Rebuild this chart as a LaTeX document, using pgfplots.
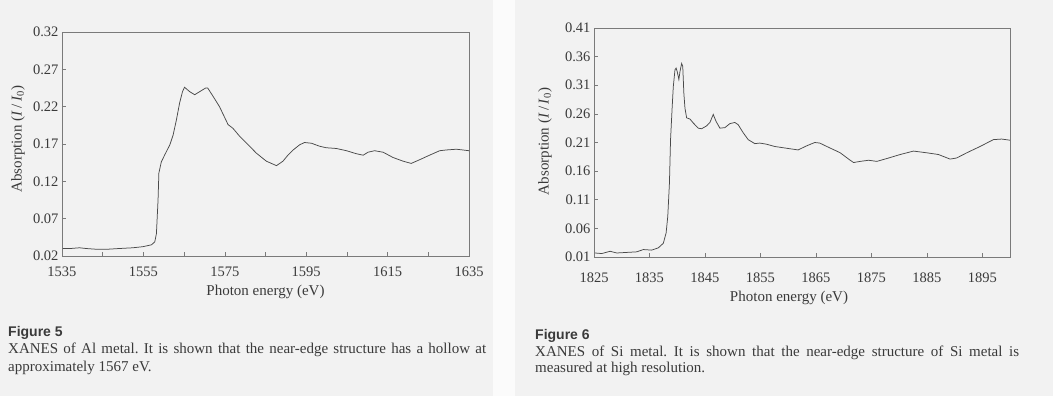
\documentclass[border=0pt]{standalone}
\usepackage{fontspec}
\setmainfont{Liberation Serif}
\newfontfamily\capsans{Liberation Sans}
\usepackage{pgfplots}
\pgfplotsset{compat=1.18}
\frenchspacing
\definecolor{bgpanel}{HTML}{F2F2F2}
\definecolor{bggap}{HTML}{FBFBFB}
\definecolor{curve}{HTML}{4A4A4A}
\definecolor{frame}{HTML}{7A7A7A}
\definecolor{txt}{HTML}{3A3A3A}
\pgfplotsset{xanes/.style={
  scale only axis,
  anchor=south west,
  axis line style={frame, line width=0.8pt},
  tick style={frame, line width=0.6pt},
  tick align=inside, xtick pos=bottom, ytick pos=left,
  major tick length=4pt, minor tick length=4pt,
  tick label style={font=\fontsize{14.5}{16}\selectfont, text=txt},
  /pgf/number format/assume math mode=true,
  xticklabel style={/pgf/number format/set thousands separator={}},
  yticklabel style={/pgf/number format/.cd, fixed, fixed zerofill, precision=2},
}}
\begin{document}
\begin{tikzpicture}[x=1pt,y=1pt]
\fill[bggap] (0,0) rectangle (1053,396);
\fill[bgpanel] (0,0) rectangle (493,396);
\fill[bgpanel] (515,0) rectangle (1053,396);

% ---------- Figure 5 ----------
\begin{axis}[xanes,
  at={(62pt,140pt)}, width=407pt, height=224pt,
  xmin=1535, xmax=1635, ymin=0.02, ymax=0.32,
  xtick={1535,1555,1575,1595,1615,1635},
  minor xtick={1545,1565,1585,1605,1625},
  ytick={0.02,0.07,0.12,0.17,0.22,0.27,0.32},
  xticklabel style={yshift=-7pt},
]
\addplot[curve, line width=0.75pt] coordinates {
(1535.2,0.030) (1537.0,0.030) (1539.3,0.031) (1541.0,0.030) (1543.5,0.029)
(1546.0,0.029) (1549.0,0.030) (1552.4,0.031) (1554.9,0.0325) (1557.0,0.035)
(1557.8,0.039) (1558.2,0.050) (1558.6,0.095) (1558.8,0.131) (1559.4,0.146)
(1560.2,0.155) (1561.5,0.169) (1562.3,0.182) (1563.1,0.202) (1563.9,0.225)
(1564.6,0.240) (1565.1,0.246) (1566.4,0.240) (1567.6,0.236) (1568.8,0.240)
(1570.3,0.245) (1570.8,0.245) (1572.1,0.234) (1573.7,0.220) (1575.8,0.196)
(1577.0,0.191) (1578.7,0.180) (1581.1,0.167) (1582.7,0.158) (1585.2,0.147)
(1587.7,0.141) (1589.3,0.147) (1590.5,0.155) (1591.8,0.162) (1593.4,0.169)
(1594.6,0.172) (1596.3,0.171) (1598.3,0.167) (1599.9,0.165) (1602.4,0.164)
(1604.9,0.161) (1607.3,0.157) (1609.0,0.155) (1610.2,0.159) (1611.8,0.161)
(1613.9,0.159) (1616.3,0.152) (1618.8,0.147) (1620.8,0.144) (1622.9,0.149)
(1625.3,0.155) (1627.8,0.161) (1629.4,0.162) (1631.9,0.163) (1633.5,0.162)
(1635.0,0.161)
};
\end{axis}

% ---------- Figure 6 ----------
\begin{axis}[xanes,
  at={(594pt,139pt)}, width=416pt, height=229pt,
  xmin=1825, xmax=1900, ymin=0.01, ymax=0.41,
  xtick={1825,1835,1845,1855,1865,1875,1885,1895},
  ytick={0.01,0.06,0.11,0.16,0.21,0.26,0.31,0.36,0.41},
  xticklabel style={yshift=-12pt},
]
\addplot[curve, line width=0.75pt] coordinates {
(1825.2,0.017) (1826.4,0.016) (1827.9,0.020) (1829.1,0.017) (1830.9,0.018)
(1832.7,0.019) (1833.9,0.023) (1835.4,0.022) (1836.6,0.026) (1837.5,0.034)
(1838.0,0.052) (1838.3,0.081) (1838.6,0.139) (1838.8,0.215) (1839.1,0.273)
(1839.3,0.308) (1839.6,0.337) (1839.8,0.340) (1840.0,0.334) (1840.3,0.320)
(1840.5,0.334) (1840.8,0.348) (1841.0,0.343) (1841.2,0.296) (1841.4,0.270)
(1841.7,0.253) (1842.3,0.251) (1842.9,0.244) (1843.8,0.235) (1844.4,0.234)
(1845.3,0.239) (1845.9,0.245) (1846.5,0.259) (1847.0,0.247) (1847.7,0.235)
(1848.6,0.236) (1849.5,0.243) (1850.4,0.245) (1851.0,0.241) (1851.9,0.227)
(1852.8,0.215) (1854.0,0.208) (1854.9,0.209) (1856.1,0.207) (1857.6,0.203)
(1859.7,0.200) (1861.8,0.197) (1863.3,0.204) (1864.8,0.210) (1865.7,0.209)
(1867.2,0.202) (1869.4,0.192) (1870.9,0.181) (1871.8,0.175) (1873.0,0.177)
(1874.5,0.179) (1876.0,0.177) (1877.8,0.182) (1880.2,0.189) (1882.6,0.195)
(1885.0,0.192) (1887.1,0.189) (1889.2,0.181) (1890.4,0.183) (1892.2,0.192)
(1894.6,0.203) (1897.0,0.215) (1898.5,0.216) (1900.0,0.214)
};
\end{axis}

% axis labels
\begin{scope}[every node/.style={text=txt, font=\fontsize{15}{17}\selectfont, inner sep=0pt}]
\node[anchor=base] at (265.5,100) {Photon energy (eV)};
\node[anchor=base] at (789,94) {Photon energy (eV)};
\node[rotate=90] at (18,257) {Absorption (\textit{I}\,/\,\textit{I}\textsubscript{0})};
\node[rotate=90] at (545,254.5) {Absorption (\textit{I}\,/\,\textit{I}\textsubscript{0})};
\end{scope}

% captions
\begin{scope}[every node/.style={text=txt, inner sep=0pt, anchor=base west}]
\node[font=\capsans\bfseries\fontsize{14}{16}\selectfont] at (8,59) {Figure 5};
\node[font=\fontsize{15}{18}\selectfont] at (8,42) {\makebox[478pt][s]{XANES of Al metal. It is shown that the near-edge structure has a hollow at}};
\node[font=\fontsize{15}{18}\selectfont] at (8,24) {approximately 1567 eV.};
\node[font=\capsans\bfseries\fontsize{14}{16}\selectfont] at (535,56) {Figure 6};
\node[font=\fontsize{15}{18}\selectfont] at (535,39) {\makebox[484pt][s]{XANES of Si metal. It is shown that the near-edge structure of Si metal is}};
\node[font=\fontsize{15}{18}\selectfont] at (535,23) {measured at high resolution.};
\end{scope}
\path[use as bounding box] (0,0) rectangle (1053,396);
\end{tikzpicture}
\end{document}
